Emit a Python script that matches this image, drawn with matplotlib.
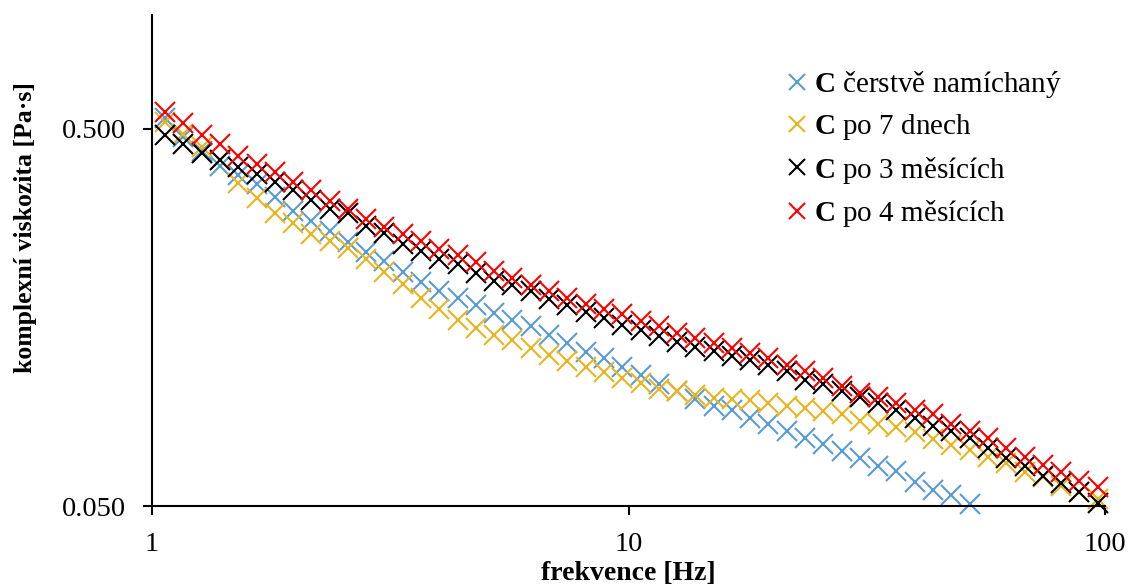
import matplotlib
matplotlib.use('Agg')
import matplotlib.pyplot as plt
from matplotlib.ticker import FixedLocator, FixedFormatter, NullLocator

plt.rcParams['font.family'] = ['Liberation Serif', 'DejaVu Serif']
plt.rcParams['mathtext.fontset'] = 'custom'
plt.rcParams['mathtext.rm'] = 'Liberation Serif'
plt.rcParams['mathtext.bf'] = 'Liberation Serif:bold'

# frequency [Hz]
freq = [1.065, 1.163, 1.271, 1.388, 1.516, 1.657, 1.810, 1.977, 2.160, 2.359,
        2.577, 2.816, 3.075, 3.359, 3.670, 4.009, 4.379, 4.783, 5.225, 5.708,
        6.235, 6.811, 7.439, 8.128, 8.879, 9.700, 10.60, 11.57, 12.65, 13.81,
        15.09, 16.48, 18.00, 19.67, 21.48, 23.47, 25.64, 28.01, 30.59, 33.42,
        36.50, 39.88, 43.56, 47.59, 52.00, 56.80, 62.05, 67.78, 74.05, 80.89,
        88.36, 96.51]

# complex viscosity [Pa.s]
fresh = [0.532, 0.476, 0.437, 0.399, 0.376, 0.356, 0.329, 0.302, 0.284, 0.267,
         0.250, 0.235, 0.223, 0.208, 0.196, 0.186, 0.178, 0.170, 0.162, 0.156,
         0.150, 0.142, 0.135, 0.128, 0.123, 0.117, 0.111, 0.105, 0.101, 0.0958,
         0.0918, 0.0896, 0.0853, 0.0823, 0.0788, 0.0755, 0.0729, 0.0698, 0.0669, 0.0637,
         0.0618, 0.0578, 0.0551, 0.0535, 0.0506]

days7 = [0.522, 0.485, 0.448, 0.414, 0.358, 0.327, 0.298, 0.281, 0.263, 0.252,
         0.241, 0.226, 0.208, 0.194, 0.178, 0.166, 0.156, 0.148, 0.142, 0.138,
         0.131, 0.126, 0.121, 0.117, 0.113, 0.109, 0.106, 0.102, 0.101, 0.0987,
         0.0964, 0.0958, 0.0952, 0.0935, 0.0918, 0.0907, 0.0891, 0.0874, 0.0838, 0.0823,
         0.0808, 0.0784, 0.0751, 0.0724, 0.0703, 0.0673, 0.0649, 0.0615, 0.0596, 0.0565,
         0.0544, 0.0522]

months3 = [0.482, 0.456, 0.430, 0.414, 0.395, 0.380, 0.360, 0.343, 0.323, 0.307,
           0.298, 0.276, 0.264, 0.247, 0.237, 0.226, 0.219, 0.207, 0.197, 0.193,
           0.186, 0.177, 0.170, 0.163, 0.157, 0.151, 0.146, 0.141, 0.136, 0.132,
           0.129, 0.125, 0.122, 0.118, 0.114, 0.108, 0.105, 0.101, 0.0970, 0.0935,
           0.0896, 0.0853, 0.0813, 0.0788, 0.0755, 0.0711, 0.0669, 0.0637, 0.0600, 0.0575,
           0.0544, 0.0509]

months4 = [0.554, 0.516, 0.482, 0.454, 0.422, 0.402, 0.383, 0.362, 0.343, 0.321,
           0.307, 0.288, 0.274, 0.263, 0.252, 0.240, 0.231, 0.222, 0.210, 0.201,
           0.193, 0.186, 0.178, 0.171, 0.166, 0.161, 0.155, 0.150, 0.144, 0.139,
           0.135, 0.131, 0.127, 0.123, 0.118, 0.114, 0.109, 0.104, 0.0999, 0.0970,
           0.0935, 0.0896, 0.0874, 0.0823, 0.0788, 0.0755, 0.0711, 0.0673, 0.0641, 0.0615,
           0.0582, 0.0561]

labels = [r'$\mathbf{C}$ čerstvě namíchaný', r'$\mathbf{C}$ po 7 dnech',
          r'$\mathbf{C}$ po 3 měsících', r'$\mathbf{C}$ po 4 měsících']
colors = ['#5B9BD5', '#E8B520', '#000000', '#FF0000']

fig = plt.figure(figsize=(11.32, 5.85), dpi=100)
ax = fig.add_axes([152 / 1132, 1 - 506 / 585, (1105 - 152) / 1132, (506 - 15) / 585])

series = [fresh, days7, months3, months4]
for vals, lab, col in zip(series, labels, colors):
    ax.plot(freq[:len(vals)], vals, linestyle='none', marker='x', markersize=15,
            markeredgewidth=1.5, color=col, label=lab, clip_on=False)

ax.set_xscale('log')
ax.set_yscale('log')
ax.set_xlim(1, 100)
ax.set_ylim(0.05, 1.0)

ax.xaxis.set_major_locator(FixedLocator([1, 10, 100]))
ax.xaxis.set_major_formatter(FixedFormatter(['1', '10', '100']))
ax.yaxis.set_major_locator(FixedLocator([0.05, 0.5]))
ax.yaxis.set_major_formatter(FixedFormatter(['0.050', '0.500']))
ax.xaxis.set_minor_locator(NullLocator())
ax.yaxis.set_minor_locator(NullLocator())

for s in ['top', 'right']:
    ax.spines[s].set_visible(False)
for s in ['left', 'bottom']:
    ax.spines[s].set_linewidth(1.5)
ax.tick_params(axis='both', direction='out', length=6.5, width=1.5, labelsize=20.5)
ax.tick_params(axis='x', pad=12)
ax.tick_params(axis='y', pad=12)

ax.set_xlabel('frekvence [Hz]', fontsize=20, fontweight='bold', labelpad=3)
ax.set_ylabel('komplexní viskozita [Pa·s]', fontsize=18.5, fontweight='bold')
ax.yaxis.set_label_coords(-0.1207, 0.568)

ax.legend(loc='upper left', bbox_to_anchor=(785 / 1132, 1 - 69 / 585),
          bbox_transform=fig.transFigure, frameon=False, fontsize=21,
          handlelength=0.8, handletextpad=0.2, labelspacing=0.42,
          markerscale=0.75, borderaxespad=0, borderpad=0)

fig.savefig('out.png', dpi=100)
